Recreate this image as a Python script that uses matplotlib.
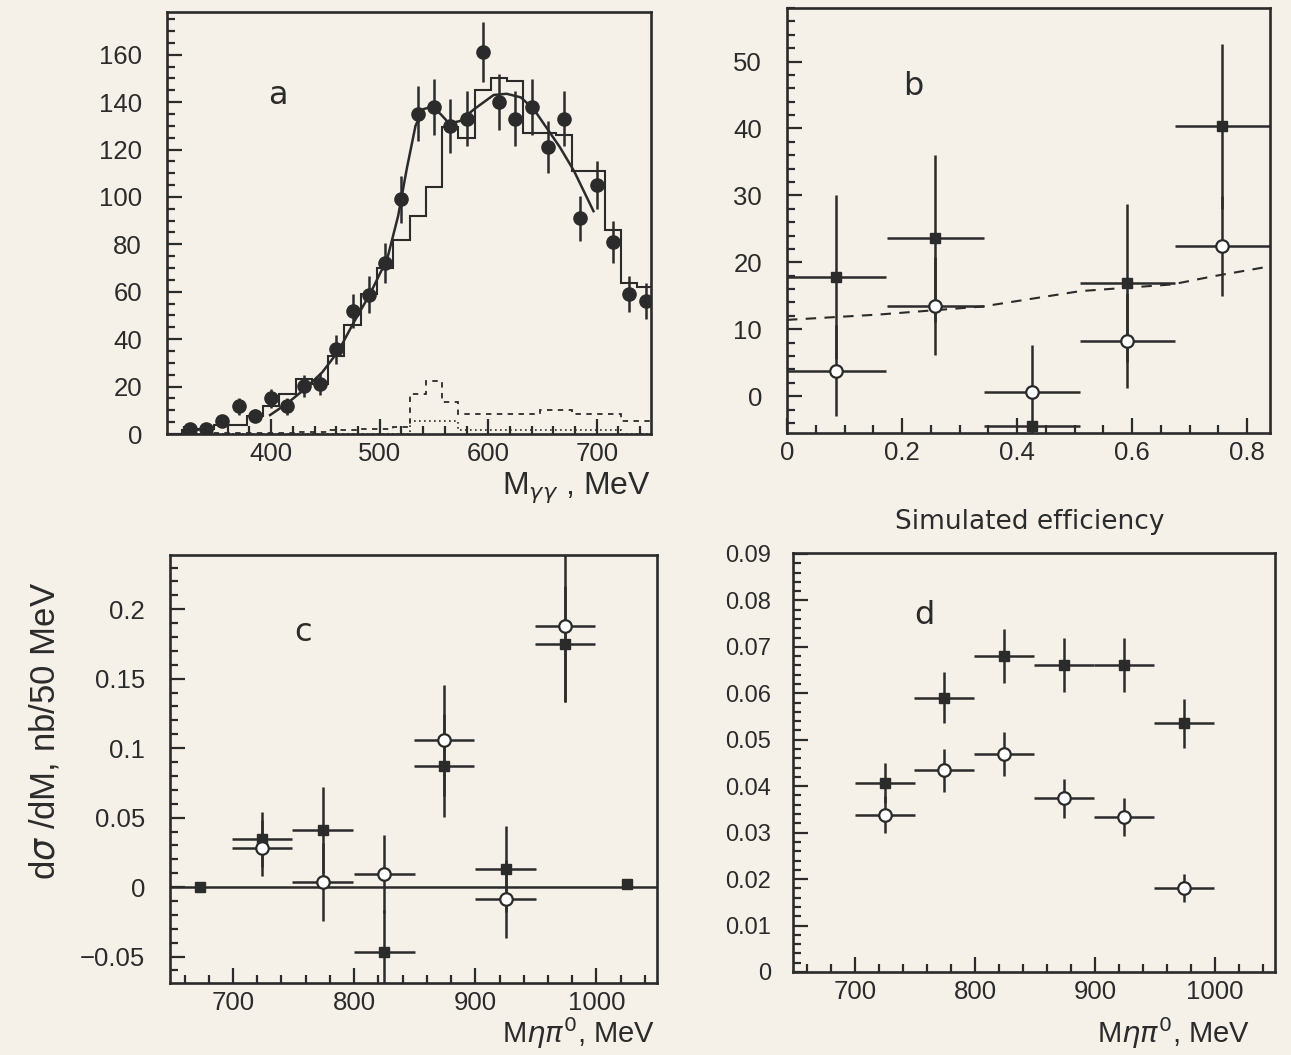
import matplotlib
matplotlib.use("Agg")
import matplotlib.pyplot as plt
from matplotlib.ticker import MultipleLocator, FuncFormatter

# ---------------- data ----------------
# panel a : M_gg spectrum
a_x = [325, 340, 355, 370, 385, 400, 415, 430, 445, 460, 475, 490, 505, 520, 535,
       550, 565, 580, 595, 610, 625, 640, 655, 670, 685, 700, 715, 730, 745]
a_y = [2, 2, 5.6, 11.6, 7.7, 15, 11.6, 20.3, 21, 35.7, 51.8, 58.8, 72, 99, 135,
       138, 130, 133, 161, 140, 133, 138, 121, 133, 91, 105, 81, 59, 56]
a_err = [1.5, 1.5, 2.4, 3.4, 2.8, 3.9, 3.4, 4.5, 4.6, 6, 7.2, 7.7, 8.5, 10, 11.6,
         11.7, 11.4, 11.5, 12.7, 11.8, 11.5, 11.7, 11, 11.5, 9.5, 10.2, 9, 7.7, 7.5]
a_edges = [317.5, 332.5, 347.5, 362.5, 377.5, 392.5, 407.5, 422.5, 437.5, 452.5,
           467.5, 482.5, 497.5, 512.5, 527.5, 542.5, 557.5, 572.5, 587.5, 602.5,
           617.5, 632.5, 647.5, 662.5, 677.5, 692.5, 707.5, 722.5, 737.5, 752.5]
a_mc = [1.5, 2, 3.8, 3.8, 7.7, 12, 16.8, 23, 21, 33, 46, 59, 70, 82, 92,
        104, 129.5, 125, 145, 150, 149, 127, 127, 126, 111, 111, 86, 63.5, 62]
a_bkg = [0.5, 0.5, 0.5, 0.5, 0.5, 0.5, 0.5, 0.8, 1, 1.5, 1.5, 2, 2, 3, 16.8,
         22.4, 13.3, 8.4, 8.4, 8.4, 8.4, 8.4, 10.2, 10.2, 8.4, 8.4, 8.4, 5.6, 5.6]
a_bkg2 = [0, 0, 0, 0, 0, 0, 0, 0, 0, 0, 0, 0, 0, 0, 5.6,
          5.6, 5.6, 1.5, 1.5, 1.5, 1.5, 1.5, 1.5, 1.5, 1.5, 1.5, 1.5, 0, 0]
a_fit_x = [399, 415, 431, 447, 462, 476, 491, 507, 517, 525, 533, 540, 548, 556,
           564, 574, 587, 605, 617, 630, 642, 654, 666, 679, 697]
a_fit_y = [8, 13, 19, 26, 35, 47, 59, 74, 92, 112, 130, 137, 138, 135,
           131, 132, 137, 143, 143.5, 142, 137, 129, 121, 111, 94]

# panel b : vs simulated efficiency
b_x = [0.086, 0.258, 0.426, 0.592, 0.757]
b_xerr = [0.086, 0.084, 0.083, 0.083, 0.083]
b_fill = [17.8, 23.6, -4.4, 16.9, 40.3]
b_fill_err = [12.3, 12.5, 0, 11.8, 12.3]
b_open = [3.8, 13.5, 0.6, 8.3, 22.4]
b_open_err = [6.8, 7.3, 7.0, 7.1, 7.5]
b_curve_x = [0, 0.16, 0.34, 0.51, 0.67, 0.74, 0.84]
b_curve_y = [11.4, 12.2, 13.4, 15.7, 16.7, 17.9, 19.4]

# panel c : dsigma/dM
c_fx = [673, 724, 774, 825, 874, 925, 974, 1025]
c_fxerr = [0, 25, 25, 25, 25, 25, 25, 0]
c_fill = [0, 0.0343, 0.041, -0.0466, 0.0874, 0.0133, 0.175, 0.0024]
c_fill_err = [0, 0.02, 0.031, 0.03, 0.037, 0.031, 0.042, 0]
c_ox = [724, 774, 825, 874, 925, 974]
c_open = [0.0283, 0.0036, 0.0097, 0.1058, -0.0085, 0.1879]
c_open_err = [0.02, 0.028, 0.028, 0.04, 0.028, 0.055]

# panel d : efficiency
d_x = [725, 774, 824, 874, 924, 974]
d_fill = [0.0407, 0.059, 0.0681, 0.0661, 0.0661, 0.0535]
d_fill_err = [0.0043, 0.0055, 0.0058, 0.0058, 0.0058, 0.0052]
d_open = [0.0339, 0.0434, 0.0469, 0.0374, 0.0334, 0.0181]
d_open_err = [0.004, 0.0047, 0.0047, 0.0042, 0.0041, 0.003]
d_xerr = 25

# ---------------- style ----------------
INK = "#2b2b2b"
BG = "#f5f1e9"
plt.rcParams["font.family"] = ["Liberation Sans", "DejaVu Sans"]
plt.rcParams["mathtext.fontset"] = "dejavusans"
plt.rcParams["text.color"] = INK
plt.rcParams["axes.edgecolor"] = INK
plt.rcParams["xtick.color"] = INK
plt.rcParams["ytick.color"] = INK

W, H = 1291, 1055
fig = plt.figure(figsize=(W / 100, H / 100), dpi=100, facecolor=BG)


def make_ax(l, r, t, b):
    ax = fig.add_axes([l / W, 1 - b / H, (r - l) / W, (b - t) / H])
    ax.set_facecolor(BG)
    for s in ax.spines.values():
        s.set_linewidth(1.9)
    ax.tick_params(which="both", direction="in", top=False, right=False,
                   labelsize=18.5, width=1.6)
    ax.tick_params(which="major", length=11)
    ax.tick_params(which="minor", length=5.5)
    ax.tick_params(axis="y", pad=18)
    ax.tick_params(axis="x", pad=6)
    return ax


ebkw = dict(ls="none", ecolor=INK, elinewidth=1.8, capsize=0)
LETTER = dict(fontsize=23, ha="center", va="center", family=["DejaVu Sans"])

# ---- panel a
ax = make_ax(167, 651, 12, 434)
ax.stairs(a_mc, a_edges, color=INK, lw=1.5)
ax.stairs(a_bkg, a_edges, color=INK, lw=1.3, ls=(0, (3, 3)))
ax.stairs(a_bkg2, a_edges, color=INK, lw=1.2, ls=(0, (1, 2)))
ax.plot(a_fit_x, a_fit_y, color=INK, lw=1.8)
ax.errorbar(a_x, a_y, yerr=a_err, xerr=4, fmt="o", ms=9.5, mfc=INK, mec=INK, **ebkw)
ax.set_xlim(304, 750)
ax.set_ylim(0, 178)
ax.xaxis.set_major_locator(MultipleLocator(100))
ax.xaxis.set_minor_locator(MultipleLocator(20))
ax.yaxis.set_major_locator(MultipleLocator(20))
ax.yaxis.set_minor_locator(MultipleLocator(5))
ax.text(0.229, 0.803, "a", transform=ax.transAxes, **LETTER)
fig.text(651 / W, 1 - 488 / H, r"M$_{\gamma\gamma}$ , MeV", fontsize=23, ha="right", va="center")

# ---- panel b
ax = make_ax(787, 1270, 8, 433)
ax.plot(b_curve_x, b_curve_y, color=INK, lw=1.5, ls=(0, (5, 4)))
ax.errorbar(b_x, b_fill, yerr=b_fill_err, xerr=b_xerr, fmt="s", ms=7.5, mfc=INK, mec=INK, **ebkw)
ax.errorbar(b_x, b_open, yerr=b_open_err, xerr=b_xerr, fmt="o", ms=9, mfc="white",
            mec=INK, mew=1.6, **ebkw)
ax.set_xlim(0, 0.84)
ax.set_ylim(-5.5, 58)
ax.xaxis.set_major_locator(MultipleLocator(0.2))
ax.xaxis.set_minor_locator(MultipleLocator(0.05))
ax.yaxis.set_major_locator(MultipleLocator(10))
ax.yaxis.set_minor_locator(MultipleLocator(2))
ax.xaxis.set_major_formatter(FuncFormatter(lambda v, p: "0" if abs(v) < 1e-9 else f"{v:.1f}"))
ax.text(0.261, 0.815, "b", transform=ax.transAxes, **LETTER)
fig.text(1030 / W, 1 - 522 / H, "Simulated efficiency", fontsize=19, ha="center", va="center",
         family=["DejaVu Sans"])

# ---- panel c
ax = make_ax(170, 657, 555, 983)
ax.axhline(0, color=INK, lw=1.8)
ax.errorbar(c_fx, c_fill, yerr=c_fill_err, xerr=c_fxerr, fmt="s", ms=7.5, mfc=INK, mec=INK, **ebkw)
ax.errorbar(c_ox, c_open, yerr=c_open_err, xerr=25, fmt="o", ms=9, mfc="white",
            mec=INK, mew=1.6, **ebkw)
ax.set_xlim(648, 1050)
ax.set_ylim(-0.069, 0.239)
ax.xaxis.set_major_locator(MultipleLocator(100))
ax.xaxis.set_minor_locator(MultipleLocator(20))
ax.yaxis.set_major_locator(MultipleLocator(0.05))
ax.yaxis.set_minor_locator(MultipleLocator(0.01))
ax.yaxis.set_major_formatter(FuncFormatter(
    lambda v, p: "0" if abs(v) < 1e-9 else ("\u22120.05" if v < 0 else f"{v:g}")))
ax.text(0.273, 0.82, "c", transform=ax.transAxes, **LETTER)
fig.text(655 / W, 1 - 1033 / H, r"M$\eta\pi^0$, MeV", fontsize=21, ha="right", va="center")
fig.text(45 / W, 1 - 731 / H, r"d$\sigma$ /dM, nb/50 MeV", fontsize=25, ha="center",
         va="center", rotation=90)

# ---- panel d
ax = make_ax(793, 1275, 553, 972)
ax.errorbar(d_x, d_fill, yerr=d_fill_err, xerr=d_xerr, fmt="s", ms=7.5, mfc=INK, mec=INK, **ebkw)
ax.errorbar(d_x, d_open, yerr=d_open_err, xerr=d_xerr, fmt="o", ms=9, mfc="white",
            mec=INK, mew=1.6, **ebkw)
ax.set_xlim(648, 1050)
ax.set_ylim(0, 0.0902)
ax.xaxis.set_major_locator(MultipleLocator(100))
ax.xaxis.set_minor_locator(MultipleLocator(20))
ax.yaxis.set_major_locator(MultipleLocator(0.01))
ax.yaxis.set_minor_locator(MultipleLocator(0.002))
ax.yaxis.set_major_formatter(FuncFormatter(
    lambda v, p: "0" if abs(v) < 1e-9 else f"{v:.2f}"))
ax.tick_params(axis="y", labelsize=17, pad=16)
ax.text(0.273, 0.852, "d", transform=ax.transAxes, **LETTER)
fig.text(1250 / W, 1 - 1033 / H, r"M$\eta\pi^0$, MeV", fontsize=21, ha="right", va="center")

fig.savefig("out.png", dpi=100, facecolor=BG)
